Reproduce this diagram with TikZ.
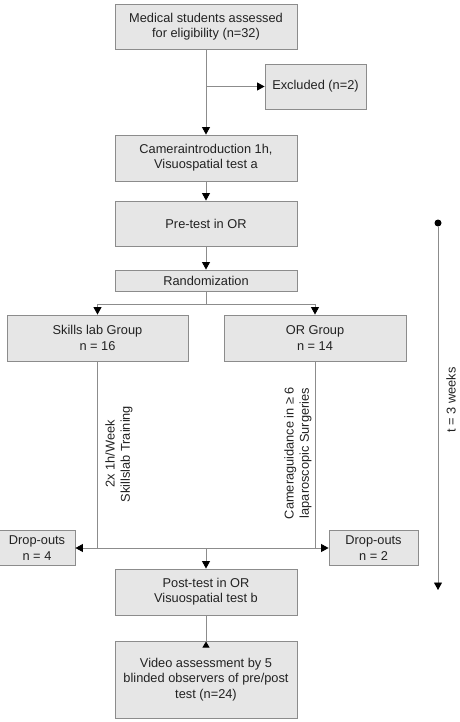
\documentclass[tikz,border=0pt]{standalone}
\usepackage{fontspec}
\setmainfont{Liberation Sans}
\usepackage{tikz}
\usetikzlibrary{calc, positioning, arrows.meta}
\definecolor{boxfill}{HTML}{E6E6E6}
\definecolor{boxline}{HTML}{8C8C8C}
\definecolor{txt}{HTML}{222222}

\begin{document}
\begin{tikzpicture}[x=1pt, y=-1pt,
    flowbox/.style={draw=boxline, line width=0.9pt, fill=boxfill, rectangle, align=center, inner sep=0pt, text=txt},
    conn/.style={draw=boxline, line width=0.9pt},
    arr/.style={conn, -{Triangle[width=8pt, length=7.5pt, color=black]}},
    font=\fontsize{12.8}{15.3}\selectfont]
    \useasboundingbox (0,0) rectangle (459,722);

    % Nodes
    \node[flowbox, minimum width=182, minimum height=45] (Elig) at (206,26.5) {Medical students assessed\\for eligibility (n=32)};
    \node[flowbox, minimum width=101, minimum height=45] (Excl) at (315.5,86.5) {Excluded (n=2)};
    \node[flowbox, minimum width=182, minimum height=46] (Camera) at (206,158) {Cameraintroduction 1h,\\Visuospatial test a};
    \node[flowbox, minimum width=182, minimum height=45] (PreTest) at (206,223.5) {Pre-test in OR};
    \node[flowbox, minimum width=182, minimum height=21] (Random) at (206,280.5) {Randomization};
    \node[flowbox, minimum width=181, minimum height=46] (Skills) at (97.5,338) {Skills lab Group\\n = 16};
    \node[flowbox, minimum width=182, minimum height=46] (ORGroup) at (315,338) {OR Group\\n = 14};
    \node[flowbox, minimum width=76, minimum height=35] (DropL) at (37,548) {Drop-outs\\n = 4};
    \node[flowbox, minimum width=89, minimum height=35] (DropR) at (373.5,548) {Drop-outs\\n = 2};
    \node[flowbox, minimum width=182, minimum height=46] (PostTest) at (206,592) {Post-test in OR\\Visuospatial test b};
    \node[flowbox, minimum width=182, minimum height=77] (Video) at (206,679.5) {Video assessment by 5\\blinded observers of pre/post\\test (n=24)};

    % Labels on the group lines
    \node[rotate=90, align=center, text=txt] (SkillsTrain) at (119,454) {2x 1h/Week\\Skillslab Training};
    \node[rotate=90, align=center, text=txt] (ORTrain) at (298,453) {Cameraguidance in ≥ 6\\laparoscopic Surgeries};

    % Time line
    \node[circle, fill=black, inner sep=0pt, minimum size=7] (TStart) at (438,223) {};
    \coordinate (TEnd) at (438,590);
    \node[rotate=90, text=txt] (TLabel) at (451,400) {t = 3 weeks};

    \coordinate (Split) at (206,304);
    \coordinate (Merge) at (206,548);

    % Arrows
    \draw[arr] (Elig) -- (Camera);
    \draw[arr] (Elig.south |- Excl.west) -- (Excl.west);
    \draw[arr] (Camera) -- (PreTest);
    \draw[arr] (PreTest) -- (Random);
    \draw[conn] (Random) -- (Split);
    \draw[arr] (Split) -| (Skills.north);
    \draw[arr] (Split) -| (ORGroup.north);
    \draw[conn] (Skills) -- (Skills |- Merge);
    \draw[conn] (ORGroup) -- (ORGroup |- Merge);
    \draw[arr] (Merge) -- (DropL.east);
    \draw[arr] (Merge) -- (DropR.west);
    \draw[arr] (Merge) -- (PostTest);
    \draw[conn, -{Triangle[width=7pt, length=6pt, color=black, reversed]}, shorten >=-7pt] (PostTest) -- (Video.north);
    \draw[arr] (TStart) -- (TEnd);

\end{tikzpicture}
\end{document}
